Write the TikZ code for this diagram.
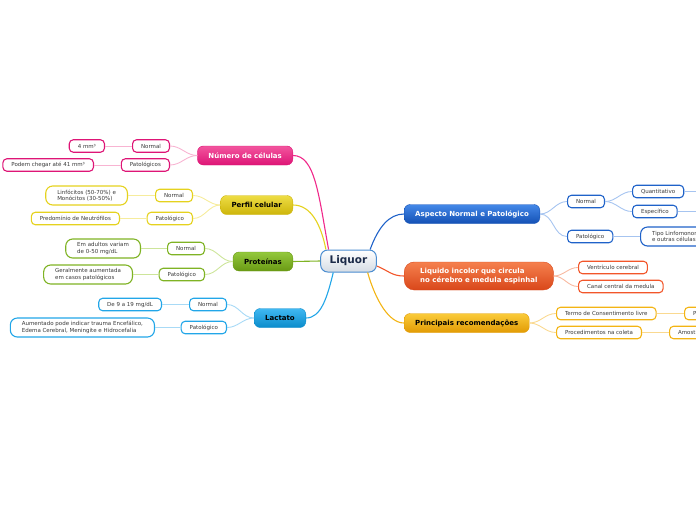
\documentclass[tikz,border=0pt]{standalone}
\usepackage{fontspec}
\setmainfont{DejaVu Sans}
\usetikzlibrary{positioning}

% cores dos ramos (topo / base / borda / linha / fio)
\definecolor{textocinza}{HTML}{3A3A3A}
\definecolor{marinho}{HTML}{1B2A48}
\definecolor{centroborda}{HTML}{4A8CD0}
\definecolor{centrofundo}{HTML}{D5DCE4}
\definecolor{rosatopo}{HTML}{F2559E}
\definecolor{rosa}{HTML}{DE1576}
\definecolor{rosalinha}{HTML}{F0288A}
\definecolor{rosafio}{HTML}{F8B4D2}
\definecolor{amarelotopo}{HTML}{EEDD45}
\definecolor{amarelo}{HTML}{CDB50A}
\definecolor{amareloborda}{HTML}{E5D21E}
\definecolor{amarelofio}{HTML}{F6EC9C}
\definecolor{verdetopo}{HTML}{93C83C}
\definecolor{verde}{HTML}{6A9A14}
\definecolor{verdeborda}{HTML}{7FB324}
\definecolor{verdefio}{HTML}{CDE59A}
\definecolor{celestetopo}{HTML}{40B8F2}
\definecolor{celeste}{HTML}{0A8CCB}
\definecolor{celesteborda}{HTML}{22A6E8}
\definecolor{celestefio}{HTML}{A8DAF6}
\definecolor{azultopo}{HTML}{4488E8}
\definecolor{azul}{HTML}{1451B5}
\definecolor{azulborda}{HTML}{1F62C9}
\definecolor{azulfio}{HTML}{A6C4F0}
\definecolor{laranjatopo}{HTML}{F5804E}
\definecolor{laranja}{HTML}{D9471A}
\definecolor{laranjaborda}{HTML}{F2562A}
\definecolor{laranjafio}{HTML}{F8B9A0}
\definecolor{ourotopo}{HTML}{FACB3A}
\definecolor{ouro}{HTML}{E29B04}
\definecolor{ouroborda}{HTML}{F3B414}
\definecolor{ourofio}{HTML}{FAD990}

\begin{document}
\begin{tikzpicture}[x=1pt, y=-1pt,
    topico/.style={rounded corners=6pt, minimum height=19pt, inner xsep=11pt,
        font=\bfseries\fontsize{7}{8.6}\selectfont},
    sub/.style={draw=#1, line width=1.1pt, fill=white, rounded corners=4pt,
        minimum height=12.5pt, inner xsep=8.5pt, inner ysep=2pt, text=textocinza,
        font=\fontsize{5.5}{6.6}\selectfont},
    multi/.style={sub=#1, align=left, inner xsep=11.5pt, rounded corners=7pt, minimum height=19pt},
    ramo/.style={draw=#1, line width=1.1pt},
    fio/.style={draw=#1, line width=0.9pt},
]
    \useasboundingbox (0,0) rectangle (696,520);
    \clip (0,0) rectangle (696,520);

    % --- Centro ---
    \node[rounded corners=7pt, draw=centroborda, line width=1pt, top color=white, bottom color=centrofundo,
        minimum height=22pt, inner xsep=9pt, text=marinho, font=\bfseries\fontsize{10.5}{12}\selectfont]
        (liquor) at (348.5,261) {Liquor};

    % --- Topicos da esquerda ---
    \node[topico, anchor=east, draw=rosa, top color=rosatopo, bottom color=rosa, text=white]
        (num) at (293,155.5) {Número de células};
    \node[topico, anchor=east, draw=amarelo, top color=amarelotopo, bottom color=amarelo, text=black]
        (perfil) at (293,205) {Perfil celular};
    \node[topico, anchor=east, draw=verde, top color=verdetopo, bottom color=verde, text=black]
        (prot) at (293,261.5) {Proteínas};
    \node[topico, anchor=east, draw=celeste, top color=celestetopo, bottom color=celeste, text=black]
        (lact) at (306,318) {Lactato};

    % --- Topicos da direita ---
    \node[topico, anchor=west, draw=azul, top color=azultopo, bottom color=azul, text=white]
        (asp) at (404,214) {Aspecto Normal e Patológico};
    \node[topico, anchor=west, draw=laranja, top color=laranjatopo, bottom color=laranja, text=white,
        align=left, rounded corners=10pt, minimum height=28pt, inner xsep=16pt]
        (liq) at (404,276) {Liquido incolor que circula\\no cérebro e medula espinhal};
    \node[topico, anchor=west, draw=ouro, top color=ourotopo, bottom color=ouro, text=black]
        (princ) at (404,323) {Principais recomendações};

    % ligacoes ao centro
    \draw[ramo=rosalinha] (liquor.150) .. controls +(-10,-55) and +(22,0) .. (num.east);
    \draw[ramo=amareloborda] (liquor.153) .. controls +(-5,-25) and +(18,0) .. (perfil.east);
    \draw[ramo=verdeborda] (liquor.west) -- (prot.east);
    \draw[ramo=celesteborda] (liquor.217) .. controls +(-6,25) and +(15,0) .. (lact.east);
    \draw[ramo=azulborda] (liquor.28) .. controls +(8,-22) and +(-15,0) .. (asp.west);
    \draw[ramo=laranjaborda] (liquor.-10) .. controls +(12,5) and +(-12,0) .. (liq.west);
    \draw[ramo=ouroborda] (liquor.-31) .. controls +(8,28) and +(-15,0) .. (princ.west);

    % --- Número de células ---
    \node[sub=rosa, anchor=east] (numn) at (170,146) {Normal};
    \node[sub=rosa, anchor=east] (nump) at (170,165) {Patológicos};
    \node[sub=rosa, anchor=east] (numnv) at (105,146) {4 mm³};
    \node[sub=rosa, anchor=east] (numpv) at (94,165) {Podem chegar até 41 mm³};

    % --- Perfil celular ---
    \node[sub=amareloborda, anchor=east] (perfn) at (193,195.5) {Normal};
    \node[sub=amareloborda, anchor=east] (perfp) at (193,218.5) {Patológico};
    \node[multi=amareloborda, anchor=east] (perfnv) at (128,195.5) {Linfócitos (50-70\%) e\\Monócitos (30-50\%)};
    \node[sub=amareloborda, anchor=east] (perfpv) at (120,218.5) {Predomínio de Neutrófilos};

    % --- Proteínas ---
    \node[sub=verdeborda, anchor=east] (protn) at (205,248.5) {Normal};
    \node[sub=verdeborda, anchor=east] (protp) at (205,274.5) {Patológico};
    \node[multi=verdeborda, anchor=east] (protnv) at (141,248.5) {Em adultos variam\\de 0-50 mg/dL};
    \node[multi=verdeborda, anchor=east] (protpv) at (133,274.5) {Geralmente aumentada\\em casos patológicos};

    % --- Lactato ---
    \node[sub=celesteborda, anchor=east] (lactn) at (227,304.5) {Normal};
    \node[sub=celesteborda, anchor=east] (lactp) at (227,327.5) {Patológico};
    \node[sub=celesteborda, anchor=east] (lactnv) at (162,304.5) {De 9 a 19 mg/dL};
    \node[multi=celesteborda, anchor=east] (lactpv) at (155,327.5)
        {Aumentado pode indicar trauma Encefálico,\\Edema Cerebral, Meningite e Hidrocefalia};

    % --- Aspecto Normal e Patológico ---
    \node[sub=azulborda, anchor=west] (aspn) at (567,201.5) {Normal};
    \node[sub=azulborda, anchor=west] (aspp) at (567,236.5) {Patológico};
    \node[sub=azulborda, anchor=west] (quant) at (632,191.5) {Quantitativo};
    \node[sub=azulborda, anchor=west] (espec) at (632,211.5) {Específico};
    \node[multi=azulborda, anchor=west] (tipo) at (640,236.5) {Tipo Linfomononucleares\\e outras células};
    \coordinate (quantfim) at (700,191.5);
    \coordinate (especfim) at (700,211.5);

    % --- Liquido incolor ---
    \node[sub=laranjaborda, anchor=west] (ventr) at (578,267.5) {Ventrículo cerebral};
    \node[sub=laranjaborda, anchor=west] (canal) at (578,286.5) {Canal central da medula};

    % --- Principais recomendações ---
    \node[sub=ouroborda, anchor=west] (termo) at (556,313.5) {Termo de Consentimento livre};
    \node[sub=ouroborda, anchor=west] (proc) at (556,332.5) {Procedimentos na coleta};
    \node[sub=ouroborda, anchor=west] (termov) at (684,313.5) {Preenchimento};
    \node[sub=ouroborda, anchor=west] (procv) at (669,332.5) {Amostra};

    % fios dos topicos (esquerda)
    \foreach \a/\b/\c in {num/numn/rosafio, num/nump/rosafio, perfil/perfn/amarelofio, perfil/perfp/amarelofio,
        prot/protn/verdefio, prot/protp/verdefio, lact/lactn/celestefio, lact/lactp/celestefio}
        \draw[fio=\c] (\a.west) to[out=180, in=0] (\b.east);
    \foreach \a/\b/\c in {numn/numnv/rosafio, nump/numpv/rosafio, perfn/perfnv/amarelofio, perfp/perfpv/amarelofio,
        protn/protnv/verdefio, protp/protpv/verdefio, lactn/lactnv/celestefio, lactp/lactpv/celestefio}
        \draw[fio=\c] (\a.west) -- (\b.east);

    % fios dos topicos (direita)
    \foreach \a/\b/\c in {asp/aspn/azulfio, asp/aspp/azulfio, aspn/quant/azulfio, aspn/espec/azulfio,
        liq/ventr/laranjafio, liq/canal/laranjafio, princ/termo/ourofio, princ/proc/ourofio}
        \draw[fio=\c] (\a.east) to[out=0, in=180] (\b.west);
    \draw[fio=azulfio] (aspp.east) -- (tipo.west);
    \draw[fio=azulfio] (quant.east) -- (quantfim);
    \draw[fio=azulfio] (espec.east) -- (especfim);
    \draw[fio=ourofio] (termo.east) -- (termov.west);
    \draw[fio=ourofio] (proc.east) -- (procv.west);
\end{tikzpicture}
\end{document}
